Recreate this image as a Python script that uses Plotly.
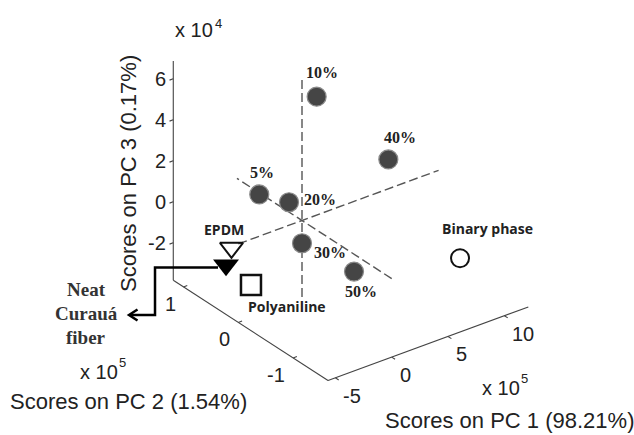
import numpy as np
import plotly.graph_objects as go

# ---------------- data (PC1, PC2 in units of 1e5 ; PC3 in units of 1e4) -------------
sample_names = ["5%", "10%", "20%", "30%", "40%", "50%"]
sample_pc1 = [0.0, 1.30, 0.0, 0.0, 7.66, 0.0]
sample_pc2 = [0.78, 0.0, 0.237, 0.0, 0.0, -0.949]
sample_pc3 = [-0.08, 5.78, 0.48, -1.11, 1.43, -0.85]

ref_names = ["EPDM", "Neat Curauá fiber", "Polyaniline", "Binary phase"]
ref_pc1 = [-4.0, -4.0, -3.0, 9.16]
ref_pc2 = [0.464, 0.564, 0.314, -1.0]
ref_pc3 = [-1.33, -2.34, -3.08, -1.96]

pc1_lim = [-5.65, 12.12]
pc2_lim = [-1.637, 1.187]
pc3_lim = [-3.83, 6.87]
pc1_ticks = [-5, 0, 5, 10]
pc2_ticks = [-1, 0, 1]
pc3_ticks = [-2, 0, 2, 4, 6]
pc1_title = "Scores on PC 1 (98.21%)"
pc2_title = "Scores on PC 2 (1.54%)"
pc3_title = "Scores on PC 3 (0.17%)"
neat_label_lines = ["Neat", "Curauá", "fiber"]

# ---------------- orthographic view (screen vectors per unit) -------------------------
O = np.array([302.0, 220.5])
E1 = np.array([11.27, -4.14])
E2 = np.array([-54.8, -35.5])
E3 = np.array([0.0, -20.5])


def proj(p1, p2, p3):
    p1, p2, p3 = (np.atleast_1d(np.asarray(v, dtype=float)) for v in (p1, p2, p3))
    x = O[0] + E1[0] * p1 + E2[0] * p2 + E3[0] * p3
    y = O[1] + E1[1] * p1 + E2[1] * p2 + E3[1] * p3
    return x, y


def unit(v):
    v = np.asarray(v, float)
    return v / np.hypot(*v)


fig = go.Figure()
shapes = []
ann = []

AX_COL = "#444444"


def seg(a, b, color=AX_COL, width=1.1, dash="solid"):
    (x0, y0), (x1, y1) = a, b
    shapes.append(dict(type="line", xref="x", yref="y", x0=x0, y0=y0, x1=x1, y1=y1,
                       line=dict(color=color, width=width, dash=dash), layer="below"))


def P(p1, p2, p3):
    x, y = proj(p1, p2, p3)
    return float(x[0]), float(y[0])


# axis lines
c_top = P(pc1_lim[0], pc2_lim[1], pc3_lim[1])
c_back = P(pc1_lim[0], pc2_lim[1], pc3_lim[0])
c_front = P(pc1_lim[0], pc2_lim[0], pc3_lim[0])
c_right = P(pc1_lim[1], pc2_lim[0], pc3_lim[0])
seg(c_top, c_back)
seg(c_back, c_front)
seg(c_front, c_right)

TICK_FONT = dict(family="Liberation Sans, Arial", size=20, color="#222222")
SUP_FONT = dict(family="Liberation Sans, Arial", size=13, color="#222222")
TITLE_FONT = dict(family="Liberation Sans, Arial", size=22, color="#222222")

# PC3 ticks
d3 = -unit(E1) * 4
for t in pc3_ticks:
    a = P(pc1_lim[0], pc2_lim[1], t)
    seg(a, (a[0] + d3[0], a[1] + d3[1]))
    ann.append(dict(x=a[0] - 7, y=a[1], text=str(t), xanchor="right", yanchor="middle",
                    font=TICK_FONT))
# PC2 ticks
d2 = unit(E1) * 4
for t in pc2_ticks:
    a = P(pc1_lim[0], t, pc3_lim[0])
    seg(a, (a[0] + d2[0], a[1] + d2[1]))
    ann.append(dict(x=a[0] - 8, y=a[1] + 17, text=str(t), xanchor="right", yanchor="middle",
                    font=TICK_FONT))
# PC1 ticks
d1 = -unit(E2) * 4
for t in pc1_ticks:
    a = P(t, pc2_lim[0], pc3_lim[0])
    seg(a, (a[0] + d1[0], a[1] + d1[1]))
    ann.append(dict(x=a[0] + 8, y=a[1] + 18, text=str(t), xanchor="left", yanchor="middle",
                    font=TICK_FONT))

# exponent labels ("x 10" with a raised exponent)
for (bx, by, ex, ey, e) in [(213, 30, 214.5, 23, "4"), (118, 372, 119, 362, "5"),
                             (520, 388, 521, 378, "5")]:
    ann.append(dict(x=bx, y=by, text="x 10", xanchor="right", yanchor="middle", font=TICK_FONT))
    ann.append(dict(x=ex, y=ey, text=e, xanchor="left", yanchor="middle", font=SUP_FONT))

ann.append(dict(x=509, y=420, text=pc1_title, xanchor="center", yanchor="middle", font=TITLE_FONT))
ann.append(dict(x=128, y=401, text=pc2_title, xanchor="center", yanchor="middle", font=TITLE_FONT))
ann.append(dict(x=128, y=174, text=pc3_title, xanchor="center", yanchor="middle", textangle=-90,
                font=TITLE_FONT))

# dashed lines through the origin along each axis
DASH = "9px,4px"
seg(P(pc1_lim[0], 0, 0), P(pc1_lim[1], 0, 0), color="#555555", width=1.4, dash=DASH)
seg(P(0, pc2_lim[0], 0), P(0, pc2_lim[1], 0), color="#555555", width=1.4, dash=DASH)
seg(P(0, 0, pc3_lim[0] + 0.1), P(0, 0, pc3_lim[1]), color="#555555", width=1.4, dash=DASH)

# sample points
sx, sy = proj(sample_pc1, sample_pc2, sample_pc3)
fig.add_trace(go.Scatter(x=sx, y=sy, mode="markers", hoverinfo="skip",
                         marker=dict(symbol="circle", size=19, color="#454545",
                                     line=dict(color="#8a8a8a", width=1.2))))
sample_offsets = {"5%": (3, -22), "10%": (5, -24), "20%": (31, -3), "30%": (28, 9),
                  "40%": (12, -22), "50%": (7, 20)}
LBL_FONT = dict(family="Liberation Serif, Times New Roman", size=16, color="#222222", weight="bold")
for n, x, y in zip(sample_names, sx, sy):
    dx, dy = sample_offsets[n]
    ann.append(dict(x=x + dx, y=y + dy, text=n, xanchor="center", yanchor="middle", font=LBL_FONT))

# reference materials
rx, ry = proj(ref_pc1, ref_pc2, ref_pc3)
ref_style = {
    "EPDM": dict(symbol="triangle-down-open", size=20, color="#111111", line=dict(width=2, color="#111111")),
    "Neat Curauá fiber": dict(symbol="triangle-down", size=22.5, color="#000000", line=dict(width=0)),
    "Polyaniline": dict(symbol="square-open", size=20, color="#111111", line=dict(width=2.5, color="#111111")),
    "Binary phase": dict(symbol="circle-open", size=18, color="#111111", line=dict(width=2, color="#111111")),
}
for n, x, y in zip(ref_names, rx, ry):
    fig.add_trace(go.Scatter(x=[x], y=[y], mode="markers", hoverinfo="skip", marker=ref_style[n]))

SANS_LBL = dict(family="Open Sans", size=14, color="#222222", weight="bold")
ref_offsets = {"EPDM": (-7, -18), "Polyaniline": (36, 22), "Binary phase": (27.5, -30)}
for n, x, y in zip(ref_names, rx, ry):
    if n in ref_offsets:
        dx, dy = ref_offsets[n]
        ann.append(dict(x=x + dx, y=y + dy, text=n, xanchor="center", yanchor="middle", font=SANS_LBL))

# callout for the neat fiber
nx, ny = float(rx[1]), float(ry[1])
kx, ky = nx - 71, ny + 50
tip = kx - 26
shapes.append(dict(type="path", xref="x", yref="y",
                   path=f"M{nx - 8},{ny + 2.5} L{kx},{ny + 2.5} L{kx},{ky} L{tip + 1},{ky}",
                   line=dict(color="#000000", width=2.5), layer="above"))
shapes.append(dict(type="path", xref="x", yref="y",
                   path=f"M{tip + 8.5},{ky - 5.5} L{tip},{ky} L{tip + 8.5},{ky + 5.5}",
                   line=dict(color="#000000", width=2.5), layer="above"))
NEAT_FONT = dict(family="Liberation Serif, Times New Roman", size=19, color="#333333", weight="bold")
for i, line in enumerate(neat_label_lines):
    ann.append(dict(x=kx - 69, y=ky - 26 + 24 * i, text=line, xanchor="center", yanchor="middle",
                    font=NEAT_FONT))

for a in ann:
    a.setdefault("xref", "x")
    a.setdefault("yref", "y")
    a.setdefault("showarrow", False)
    a.setdefault("borderpad", 0)
    a.setdefault("borderwidth", 0)

fig.update_layout(
    width=634, height=435, margin=dict(l=0, r=0, t=0, b=0),
    paper_bgcolor="white", plot_bgcolor="white", showlegend=False,
    xaxis=dict(range=[0, 634], visible=False, fixedrange=True),
    yaxis=dict(range=[435, 0], visible=False, fixedrange=True),
    shapes=shapes, annotations=ann,
)
fig.write_html("out.html")
